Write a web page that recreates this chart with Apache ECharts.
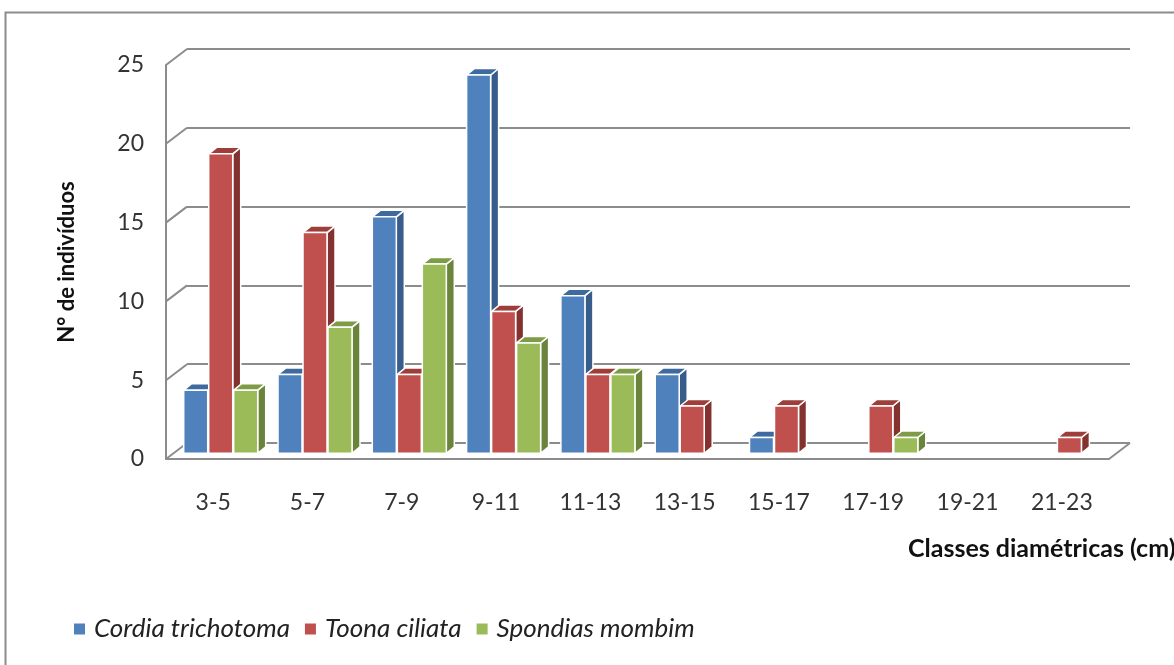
<!DOCTYPE html>
<html>
<head>
<meta charset="utf-8">
<script src="https://cdn.jsdelivr.net/npm/echarts@6/dist/echarts.min.js"></script>
<style>
  html, body { margin: 0; padding: 0; background: #ffffff; }
  #chart { width: 1174px; height: 665px; }
</style>
</head>
<body>
<div id="chart"></div>
<script>
// Diameter classes (cm)
var categories = ['3-5', '5-7', '7-9', '9-11', '11-13', '13-15', '15-17', '17-19', '19-21', '21-23'];

// Number of individuals per class
var cordia   = [4, 5, 15, 24, 10, 5, 1, 0, 0, 0];
var toona    = [19, 14, 5, 9, 5, 3, 3, 3, 0, 1];
var spondias = [4, 8, 12, 7, 5, 0, 0, 1, 0, 0];

var seriesNames = ['Cordia trichotoma', 'Toona ciliata', 'Spondias mombim'];
var yTicks = [0, 5, 10, 15, 20, 25];

// face colours: front, side, top
var palette = [
  { front: '#4F81BD', side: '#385D8A', top: '#3E6A9E' },
  { front: '#C0504D', side: '#843230', top: '#9E3E3B' },
  { front: '#9BBB59', side: '#6B843C', top: '#7E9B45' }
];

// 3D geometry (pixels)
var DEPTH_X = 21, DEPTH_Y = -16;   // floor / wall depth
var PLANE = 0.36;                   // depth fraction where bar fronts stand
var BAR_W = 24, BAR_STEP = 25;      // bar width and spacing within a group
var BAR_DX = 8, BAR_DY = -6.5;      // bar depth

var FONT = 'Lato, "Open Sans", sans-serif';

function barRenderer(seriesIdx) {
  var col = palette[seriesIdx];
  return function (params, api) {
    var ci = api.value(0);
    var v = api.value(1);
    if (!v) return null;
    var base = api.coord([ci, 0]);
    var topPt = api.coord([ci, v]);
    var cx = base[0] + PLANE * DEPTH_X + (seriesIdx - 1) * BAR_STEP;
    var x0 = cx - BAR_W / 2, x1 = cx + BAR_W / 2;
    var yb = base[1] + PLANE * DEPTH_Y;
    var yt = topPt[1] + PLANE * DEPTH_Y;
    var stroke = { stroke: '#ffffff', lineWidth: 1.5, lineJoin: 'round' };
    return {
      type: 'group',
      children: [
        {
          type: 'polygon',
          shape: { points: [[x1, yt], [x1 + BAR_DX, yt + BAR_DY], [x1 + BAR_DX, yb + BAR_DY], [x1, yb]] },
          style: Object.assign({ fill: col.side }, stroke)
        },
        {
          type: 'polygon',
          shape: { points: [[x0, yt], [x0 + BAR_DX, yt + BAR_DY], [x1 + BAR_DX, yt + BAR_DY], [x1, yt]] },
          style: Object.assign({ fill: col.top }, stroke)
        },
        {
          type: 'rect',
          shape: { x: x0, y: yt, width: BAR_W, height: yb - yt },
          style: Object.assign({ fill: col.front }, stroke)
        }
      ]
    };
  };
}

function barData(values) {
  return values.map(function (v, i) { return [i, v]; });
}

// left wall tick diagonals and the right edge of the floor
var wallData = yTicks.map(function (t) { return [0, t, 'left']; });
wallData.push([categories.length - 1, 0, 'right']);

function wallRenderer(params, api) {
  var ci = api.value(0);
  var v = api.value(1);
  var side = api.value(2) === 'right' ? 1 : -1;
  var p = api.coord([ci, v]);
  var band = api.size([1, 0])[0];
  var x = p[0] + side * band / 2;
  return {
    type: 'line',
    shape: { x1: x, y1: p[1], x2: x + DEPTH_X, y2: p[1] + DEPTH_Y },
    style: { stroke: '#8C8C8C', lineWidth: 2 }
  };
}

var chart = echarts.init(document.getElementById('chart'));

var frontGrid = { left: 166, top: 65, width: 943, height: 394 };
var backGrid = {
  left: frontGrid.left + DEPTH_X,
  top: frontGrid.top + DEPTH_Y,
  width: frontGrid.width,
  height: frontGrid.height
};

var option = {
  backgroundColor: '#ffffff',
  animation: false,
  textStyle: { fontFamily: FONT },
  grid: [backGrid, frontGrid],
  xAxis: [
    {
      gridIndex: 0, type: 'category', data: categories,
      show: false
    },
    {
      gridIndex: 1, type: 'category', data: categories,
      axisLine: { show: true, lineStyle: { color: '#8C8C8C', width: 2 } },
      axisTick: { show: false },
      axisLabel: { color: '#333333', fontSize: 23, margin: 32, fontFamily: FONT },
      splitLine: { show: false }
    }
  ],
  yAxis: [
    {
      gridIndex: 0, type: 'value', min: 0, max: 25, interval: 5,
      axisLine: { show: false }, axisTick: { show: false }, axisLabel: { show: false },
      splitLine: { show: true, lineStyle: { color: '#8C8C8C', width: 2 } }
    },
    {
      gridIndex: 1, type: 'value', min: 0, max: 25, interval: 5,
      axisLine: { show: true, lineStyle: { color: '#8C8C8C', width: 2 } },
      axisTick: { show: false },
      splitLine: { show: false },
      axisLabel: { color: '#333333', fontSize: 23, margin: 22, fontFamily: FONT },
      name: 'N° de indivíduos',
      nameLocation: 'middle',
      nameRotate: 90,
      nameGap: 88,
      nameTextStyle: { color: '#111111', fontSize: 22, fontWeight: 'bold', fontFamily: FONT }
    }
  ],
  legend: {
    data: seriesNames,
    left: 69,
    top: 611,
    icon: 'rect',
    itemWidth: 11,
    itemHeight: 11,
    itemGap: 15,
    textStyle: { color: '#222222', fontSize: 26, fontStyle: 'italic', fontFamily: FONT, padding: [0, 0, 0, 4] }
  },
  graphic: [
    {
      type: 'rect',
      shape: { x: 5.5, y: 12.5, width: 1300, height: 800 },
      style: { fill: 'none', stroke: '#8C8C8C', lineWidth: 2 },
      silent: true
    },
    {
      type: 'text',
      left: 908,
      top: 536,
      style: {
        text: 'Classes diamétricas (cm)',
        fill: '#111111',
        font: 'bold 25px ' + FONT
      }
    }
  ],
  series: [
    {
      type: 'custom', name: 'walls', xAxisIndex: 1, yAxisIndex: 1,
      renderItem: wallRenderer, data: wallData, silent: true, z: 1
    },
    {
      type: 'custom', name: seriesNames[0], xAxisIndex: 1, yAxisIndex: 1,
      itemStyle: { color: palette[0].front },
      renderItem: barRenderer(0), data: barData(cordia), z: 3
    },
    {
      type: 'custom', name: seriesNames[1], xAxisIndex: 1, yAxisIndex: 1,
      itemStyle: { color: palette[1].front },
      renderItem: barRenderer(1), data: barData(toona), z: 3
    },
    {
      type: 'custom', name: seriesNames[2], xAxisIndex: 1, yAxisIndex: 1,
      itemStyle: { color: palette[2].front },
      renderItem: barRenderer(2), data: barData(spondias), z: 3
    }
  ]
};

chart.setOption(option);
</script>
</body>
</html>
